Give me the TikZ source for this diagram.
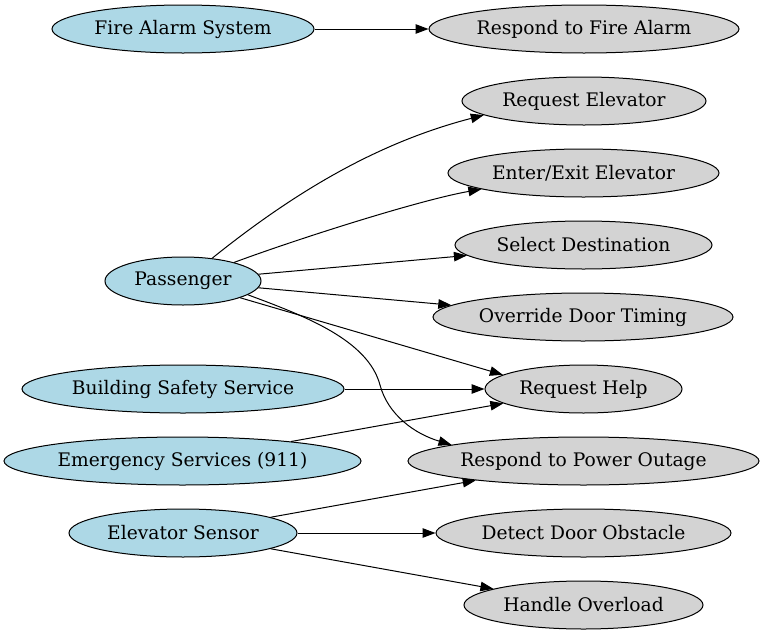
\documentclass[tikz,border=0pt]{standalone}
\usepackage{fontspec}
\setmainfont{DejaVu Serif}
\usetikzlibrary{shapes.geometric,arrows.meta}
\definecolor{actorblue}{HTML}{ADD8E6}
\definecolor{casegray}{HTML}{D3D3D3}
\begin{document}
\begin{tikzpicture}[x=1pt,y=-1pt,
  base/.style={ellipse,draw=black,line width=1pt,minimum height=48pt,inner sep=0pt,
    font=\fontsize{18.67pt}{22pt}\selectfont},
  actor/.style={base,fill=actorblue},
  usecase/.style={base,fill=casegray},
  edge/.style={draw=black,line width=1pt,-{Triangle[length=13pt,width=9.5pt]}}]
\useasboundingbox (0,0) rectangle (764,635);
% actors
\node[actor,minimum width=262pt] (fire) at (183,29) {Fire Alarm System};
\node[actor,minimum width=156pt] (pass) at (183,281) {Passenger};
\node[actor,minimum width=322pt] (bss) at (183,389) {Building Safety Service};
\node[actor,minimum width=357pt] (ems) at (182.5,461) {Emergency Services (911)};
\node[actor,minimum width=228pt] (sens) at (183,533) {Elevator Sensor};
% use cases
\node[usecase,minimum width=310pt] (rfa) at (584,29) {Respond to Fire Alarm};
\node[usecase,minimum width=244pt] (reqel) at (584,101) {Request Elevator};
\node[usecase,minimum width=271pt] (enter) at (583.5,173) {Enter/Exit Elevator};
\node[usecase,minimum width=257pt] (select) at (583.5,245) {Select Destination};
\node[usecase,minimum width=300pt] (override) at (583,317) {Override Door Timing};
\node[usecase,minimum width=197pt] (help) at (583.5,389) {Request Help};
\node[usecase,minimum width=351pt] (po) at (583.5,461) {Respond to Power Outage};
\node[usecase,minimum width=295pt] (detect) at (583.5,533) {Detect Door Obstacle};
\node[usecase,minimum width=239pt] (handle) at (583.5,605) {Handle Overload};
% edges
\draw[edge] (fire) -- (rfa);
\draw[edge] (pass.38) .. controls (302,186) and (384,141) .. (reqel.188);
\draw[edge] (pass.20) .. controls (300,238) and (420,200) .. (enter.189.6);
\draw[edge] (pass) -- (select);
\draw[edge] (pass) -- (override);
\draw[edge] (pass) -- (help.170);
\draw[edge] (pass.-12) .. controls (305,316) and (368,340) .. (380,385)
  .. controls (388,415) and (415,434) .. (po.173.6);
\draw[edge] (bss) -- (help);
\draw[edge] (ems) -- (help);
\draw[edge] (sens) -- (po);
\draw[edge] (sens) -- (detect);
\draw[edge] (sens) -- (handle);
\end{tikzpicture}
\end{document}
